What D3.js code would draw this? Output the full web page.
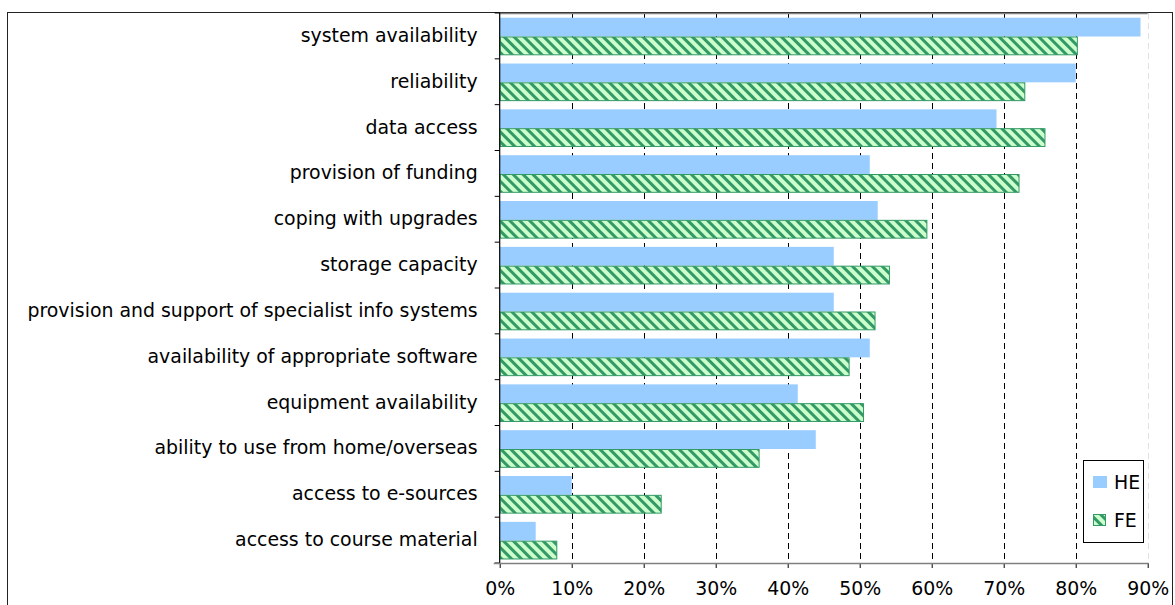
<!DOCTYPE html>
<html><head><meta charset="utf-8">
<script src="https://cdn.jsdelivr.net/npm/d3@7"></script>
<style>body{margin:0;background:#fff;} svg{display:block;}</style>
</head><body>
<script>
const categories = ["system availability","reliability","data access","provision of funding","coping with upgrades","storage capacity","provision and support of specialist info systems","availability of appropriate software","equipment availability","ability to use from home/overseas","access to e-sources","access to course material"];
const heValues = [0.89,0.80,0.69,0.514,0.525,0.464,0.464,0.514,0.414,0.439,0.10,0.05];
const feValues = [0.803,0.73,0.758,0.722,0.594,0.542,0.522,0.486,0.506,0.361,0.225,0.08];
const seriesNames = ["HE","FE"];
const xTicks = [0,0.1,0.2,0.3,0.4,0.5,0.6,0.7,0.8,0.9];

const W=1175,H=605;
const FONT="'DejaVu Sans', sans-serif";
const FS=18.9;
const svg=d3.select("body").append("svg").attr("width",W).attr("height",H);
const defs=svg.append("defs");
const pat=defs.append("pattern").attr("id","stripe").attr("patternUnits","userSpaceOnUse")
  .attr("width",7).attr("height",7).attr("patternTransform","rotate(-45)");
pat.append("rect").attr("width",7).attr("height",7).attr("fill","#ccffcc");
pat.append("rect").attr("x",0).attr("width",3).attr("height",7).attr("fill","#339966");

const L=499.7,R=1147.7,T=13,B=563;
const x=d3.scaleLinear().domain([0,0.9]).range([L,R]);
const y=d3.scaleBand().domain(categories).range([T,B]).paddingInner(0).paddingOuter(0);
const sub=d3.scaleBand().domain(seriesNames).range([4.7,42.3]).paddingInner(0).paddingOuter(0);

// frame
svg.append("rect").attr("x",7.5).attr("y",12.5).attr("width",1165).attr("height",620)
  .attr("fill","none").attr("stroke","#222").attr("stroke-width",1);

// gridlines
const grid=svg.append("g");
xTicks.slice(1).forEach(t=>{
  grid.append("line").attr("x1",Math.round(x(t))+0.5).attr("x2",Math.round(x(t))+0.5).attr("y1",T).attr("y2",B)
    .attr("stroke", t>0.85?"#e0e0e0":"#000").attr("stroke-width",1).attr("stroke-dasharray","6,4");
});
// plot top border
svg.append("line").attr("x1",L).attr("x2",R).attr("y1",13.5).attr("y2",13.5).attr("stroke","#808080").attr("stroke-width",1.5);

// bars
const g=svg.append("g");
categories.forEach((c,i)=>{
  g.append("rect").attr("x",x(0)).attr("y",y(c)+sub("HE")).attr("width",x(heValues[i])-x(0)).attr("height",sub.bandwidth())
    .attr("fill","#99ccff");
  g.append("rect").attr("x",x(0)+0.5).attr("y",y(c)+sub("FE")+0.5).attr("width",x(feValues[i])-x(0)-1).attr("height",sub.bandwidth()-1)
    .attr("fill","url(#stripe)").attr("stroke","#339966").attr("stroke-width",1);
});

// y axis
const ya=svg.append("g").attr("transform",`translate(${L},0)`)
  .call(d3.axisLeft(y).tickSize(0).tickPadding(22));
ya.select(".domain").remove();
ya.selectAll("text").attr("font-family",FONT).attr("font-size",FS).attr("fill","#000");
svg.append("line").attr("x1",L).attr("x2",L).attr("y1",T).attr("y2",B).attr("stroke","#000").attr("stroke-width",1.2);
d3.range(categories.length+1).forEach(i=>{
  const yy=T+i*y.step();
  svg.append("line").attr("x1",L-5).attr("x2",L).attr("y1",yy).attr("y2",yy).attr("stroke","#000");
});

// x axis
const xa=svg.append("g").attr("transform",`translate(0,${B})`)
  .call(d3.axisBottom(x).tickValues(xTicks).tickFormat(d3.format(".0%")).tickSize(5).tickPadding(14));
xa.select(".domain").remove();
xa.selectAll("line").attr("stroke","#000");
xa.selectAll("text").attr("font-family",FONT).attr("font-size",FS).attr("fill","#000");
svg.append("line").attr("x1",L-6).attr("x2",R+1).attr("y1",B+0.5).attr("y2",B+0.5).attr("stroke","#808080").attr("stroke-width",1.5);

// legend
const lg=svg.append("g");
lg.append("rect").attr("x",1083.5).attr("y",460.5).attr("width",60).attr("height",82).attr("fill","#fff").attr("stroke","#000");
const legY=[482,520];
seriesNames.forEach((s,i)=>{
  if(i===0) lg.append("rect").attr("x",1093).attr("y",legY[i]-6).attr("width",14).attr("height",12).attr("fill","#99ccff");
  else lg.append("rect").attr("x",1093.5).attr("y",legY[i]-5.5).attr("width",12).attr("height",11).attr("fill","url(#stripe)").attr("stroke","#339966");
  lg.append("text").attr("x",1114).attr("y",legY[i]).attr("dy","0.35em").attr("font-family",FONT).attr("font-size",FS).text(s);
});
</script>
</body></html>
